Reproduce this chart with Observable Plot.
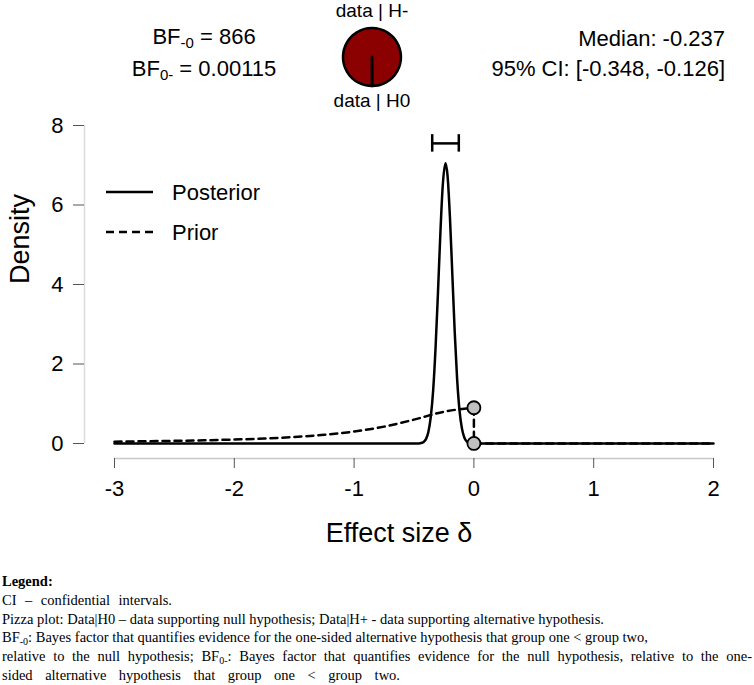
<!DOCTYPE html>
<html><head><meta charset="utf-8">
<script src="https://cdn.jsdelivr.net/npm/d3@7"></script>
<script src="https://cdn.jsdelivr.net/npm/@observablehq/plot@0.6"></script>
<style>
body{margin:0;background:#fff;}
#wrap{position:relative;width:754px;height:685px;font-family:"Liberation Sans",Arial,sans-serif;color:#000;overflow:hidden;background:#fff}
.hdr{position:absolute;font-size:22px;line-height:30px;white-space:nowrap}
.sub{font-size:15px;position:relative;top:4px}
#plot{position:absolute;left:0;top:110px}
#pie{position:absolute;left:0;top:0}
#leg{position:absolute;left:0;top:0}
#notes{position:absolute;left:2px;top:572px;font-family:"Liberation Serif","Times New Roman",serif;font-size:14.5px;line-height:18px}
#notes > div{height:18.8px;white-space:nowrap;overflow:visible}
#notes .j{text-align:justify;text-align-last:justify;white-space:normal}
#notes .s{font-size:10px;position:relative;top:3px;line-height:0}
</style></head><body><div id="wrap">
<div class="hdr" id="bf" style="left:0;width:408px;text-align:center;top:22px"></div>
<div class="hdr" id="med" style="right:29px;text-align:right;top:24px"></div>
<svg id="pie" width="754" height="112"></svg>
<div id="plot"></div>
<svg id="leg" width="300" height="260"></svg>
<div id="notes">
<div><b>Legend:</b></div>
<div class="j" style="width:170px">CI – confidential intervals.</div>
<div>Pizza plot: Data|H0 – data supporting null hypothesis; Data|H+ - data supporting alternative hypothesis.</div>
<div>BF<span class="s">-0</span>: Bayes factor that quantifies evidence for the one-sided alternative hypothesis that group one &lt; group two,</div>
<div class="j" style="width:750px">relative to the null hypothesis; BF<span class="s">0-</span>: Bayes factor that quantifies evidence for the null hypothesis, relative to the one-</div>
<div class="j" style="width:398px">sided alternative hypothesis that group one &lt; group two.</div>
</div>
</div>
<script>
// ---- data ----
const xTicks = [-3, -2, -1, 0, 1, 2];
const yTicks = [0, 2, 4, 6, 8];
const posteriorX = [-3, -0.46, -0.44, -0.42, -0.40, -0.38, -0.36, -0.34, -0.32, -0.30, -0.28, -0.26, -0.237, -0.22, -0.20, -0.18, -0.16, -0.14, -0.12, -0.10, -0.08, -0.06, -0.04, -0.02, 0, 2];
const posteriorY = [0, 0.002, 0.011, 0.04, 0.11, 0.29, 0.67, 1.34, 2.41, 3.79, 5.28, 6.49, 7.05, 6.74, 5.69, 4.25, 2.80, 1.62, 0.83, 0.38, 0.15, 0.05, 0.016, 0.004, 0.001, 0];
const priorX = [-3, -2.75, -2.5, -2.25, -2, -1.75, -1.5, -1.25, -1, -0.75, -0.5, -0.25, 0];
const priorY = [0.047, 0.056, 0.067, 0.081, 0.100, 0.126, 0.164, 0.218, 0.300, 0.424, 0.600, 0.800, 0.900];
const priorTailX = [0, 0, 2];
const priorTailY = [0.900, 0, 0];
const pointX = [0, 0];
const pointY = [0.900, 0.001];
const ciBounds = [-0.348, -0.126];
const ciLevel = 7.55;
const ciCap = [7.33, 7.77];
const medianValue = -0.237;
const bfNames = ["-0", "0-"];
const bfValues = [866, 0.00115];
const pieNames = ["data | H-", "data | H0"];

// ---- header text ----
document.getElementById("bf").innerHTML =
  `BF<span class="sub">${bfNames[0]}</span> = ${bfValues[0]}<br>BF<span class="sub">${bfNames[1]}</span> = ${bfValues[1]}`;
document.getElementById("med").innerHTML =
  `Median: ${medianValue.toFixed(3)}<br>95% CI: [${ciBounds[0].toFixed(3)}, ${ciBounds[1].toFixed(3)}]`;

// ---- pizza plot ----
{
  const svg = d3.select("#pie");
  const cx = 372, cy = 57, r = 29;
  const pieData = [bfValues[0] / (1 + bfValues[0]), 1 / (1 + bfValues[0])];
  const arcs = d3.pie().sort(null).startAngle(Math.PI).endAngle(3 * Math.PI)(pieData);
  const arc = d3.arc().innerRadius(0).outerRadius(r);
  const g = svg.append("g").attr("transform", `translate(${cx},${cy})`);
  g.selectAll("path").data(arcs).join("path")
    .attr("d", arc)
    .attr("fill", (d, i) => i === 0 ? "#8b0000" : "#ffffff")
    .attr("stroke", "#000").attr("stroke-width", 2.5).attr("stroke-linejoin", "round");
  svg.append("text").attr("x", cx).attr("y", 17).attr("text-anchor", "middle")
    .attr("font-family", "Liberation Sans, Arial, sans-serif").attr("font-size", 19).text(pieNames[0]);
  svg.append("text").attr("x", cx).attr("y", 107).attr("text-anchor", "middle")
    .attr("font-family", "Liberation Sans, Arial, sans-serif").attr("font-size", 19).text(pieNames[1]);
}

// ---- main plot ----
const posterior = posteriorX.map((x, i) => ({x, y: posteriorY[i]}));
const prior = priorX.map((x, i) => ({x, y: priorY[i]}));
const priorTail = priorTailX.map((x, i) => ({x, y: priorTailY[i]}));
const pts = pointX.map((x, i) => ({x, y: pointY[i]}));

const chart = Plot.plot({
  width: 754, height: 445,
  marginLeft: 84, marginRight: 41, marginTop: 15, marginBottom: 97,
  x: {domain: [-3, 2], insetLeft: 30},
  y: {domain: [0, 8], insetBottom: 15},
  style: {fontFamily: "Liberation Sans, Arial, sans-serif", color: "#000", background: "transparent", overflow: "visible"},
  marks: [
    Plot.ruleY([0], {x1: xTicks[0], x2: xTicks[xTicks.length - 1], dy: 15, stroke: "#c8c8c8", strokeWidth: 1.5}),
    Plot.ruleX([xTicks[0]], {y1: yTicks[0], y2: yTicks[yTicks.length - 1], dx: -30, stroke: "#dcdcdc", strokeWidth: 1.5}),
    Plot.axisX({ticks: xTicks, tickSize: 10, tickPadding: 12, stroke: "#555", fill: "#000", fontSize: 22, label: null, tickFormat: d => String(d)}),
    Plot.axisY({ticks: yTicks, tickSize: 11, tickPadding: 10, stroke: "#555", fill: "#000", fontSize: 22, label: null, tickFormat: d => String(d)}),
    Plot.line(prior, {x: "x", y: "y", curve: "monotone-x", stroke: "#000", strokeWidth: 2.5, strokeDasharray: "7,5"}),
    Plot.line(priorTail, {x: "x", y: "y", stroke: "#000", strokeWidth: 2.5, strokeDasharray: "7,5"}),
    Plot.line(posterior, {x: "x", y: "y", curve: "monotone-x", stroke: "#000", strokeWidth: 2.5}),
    Plot.dot(pts, {x: "x", y: "y", r: 6.5, fill: "#c0c0c0", stroke: "#000", strokeWidth: 1.8}),
    Plot.ruleY([ciLevel], {x1: ciBounds[0], x2: ciBounds[1], stroke: "#000", strokeWidth: 2.5}),
    Plot.ruleX(ciBounds, {y1: ciCap[0], y2: ciCap[1], stroke: "#000", strokeWidth: 2.5}),
    Plot.text(["Effect size δ"], {frameAnchor: "bottom", dy: 75, fontSize: 27, lineAnchor: "middle"}),
    Plot.text(["Density"], {frameAnchor: "left", dx: -64, dy: -8, rotate: -90, fontSize: 27, lineAnchor: "middle"})
  ]
});
document.getElementById("plot").appendChild(chart);

// ---- line legend ----
{
  const svg = d3.select("#leg");
  const items = [{label: "Posterior", dash: null}, {label: "Prior", dash: "8,5"}];
  items.forEach((it, i) => {
    const y = 192 + i * 40;
    const ln = svg.append("line").attr("x1", 106).attr("x2", 153).attr("y1", y).attr("y2", y)
      .attr("stroke", "#000").attr("stroke-width", 2.5);
    if (it.dash) ln.attr("stroke-dasharray", it.dash);
    svg.append("text").attr("x", 172).attr("y", y + 8).attr("font-family", "Liberation Sans, Arial, sans-serif")
      .attr("font-size", 22).text(it.label);
  });
}
</script>
</body></html>
